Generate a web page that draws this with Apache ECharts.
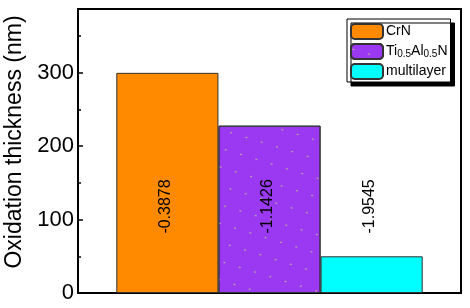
<!DOCTYPE html>
<html>
<head>
<meta charset="utf-8">
<script src="https://cdn.jsdelivr.net/npm/echarts@6/dist/echarts.min.js"></script>
<style>
  html, body { margin: 0; padding: 0; background: #fff; }
  #chart { width: 470px; height: 308px; }
</style>
</head>
<body>
<div id="chart"></div>
<script>
const seriesNames = ['CrN', 'Ti0.5Al0.5N', 'multilayer']
const legendLabels = ['CrN', 'Ti{sub|0.5}Al{sub|0.5}N', 'multilayer']
const thickness = [300, 228, 50]
const barNotes = ['-0.3878', '-1.1426', '-1.9545']
const yTicks = [0, 100, 200, 300]
const colors = ['#FF8A00', '#9A38F2', '#00FFFF']
const labelLevel = 118 // value level where the rotated notes sit

const chart = echarts.init(document.getElementById('chart'))

const series = seriesNames.map((name, i) => {
  const v = thickness[i]
  const rel = ((v - labelLevel) / v * 100).toFixed(1) + '%'
  const s = {
    name: name,
    type: 'bar',
    data: [v],
    barGap: '0%',
    barCategoryGap: '20%',
    itemStyle: { color: colors[i], borderColor: '#333', borderWidth: 1 },
    label: {
      show: true,
      formatter: barNotes[i],
      position: ['48%', rel],
      rotate: 90,
      align: 'center',
      verticalAlign: 'middle',
      color: '#000',
      fontSize: 16,
      fontFamily: 'Liberation Sans'
    }
  }
  if (i === 1) {
    s.itemStyle.decal = {
      symbol: 'circle',
      symbolSize: 0.2,
      color: 'rgba(205,230,110,0.9)',
      dashArrayX: 8,
      dashArrayY: 9,
      rotation: 0.3
    }
  }
  return s
})

const option = {
  animation: false,
  backgroundColor: '#fff',
  textStyle: { fontFamily: 'Liberation Sans' },
  grid: {
    left: 78, right: 9, top: 9, bottom: 15,
    outerBoundsMode: 'none',
    containLabel: false,
    show: true, borderColor: '#000', borderWidth: 2
  },
  legend: {
    orient: 'vertical',
    left: 347,
    top: 19,
    itemWidth: 32,
    itemHeight: 15,
    itemGap: 3,
    padding: [4, 3, 2, 3],
    backgroundColor: '#fff',
    borderColor: '#000',
    borderWidth: 1,
    borderRadius: 0,
    shadowColor: '#000',
    shadowBlur: 0,
    shadowOffsetX: 4,
    shadowOffsetY: 4,
    data: seriesNames,
    formatter: (name) => legendLabels[seriesNames.indexOf(name)],
    textStyle: {
      fontSize: 14,
      color: '#000',
      padding: [0, 0, 0, -2],
      rich: {
        sub: { fontSize: 10, verticalAlign: 'bottom', padding: [6, 0, 0, 0] }
      }
    }
  },
  xAxis: {
    type: 'category',
    data: [''],
    axisLine: { lineStyle: { color: '#000', width: 2 } },
    axisTick: { show: false },
    axisLabel: { show: false }
  },
  yAxis: {
    type: 'value',
    min: 0,
    max: 387,
    interval: 100,
    name: 'Oxidation thickness (nm)',
    nameLocation: 'middle',
    nameGap: 47,
    nameTextStyle: { fontSize: 23, color: '#000', padding: [0, 0, 0, 18] },
    axisLine: { show: true, lineStyle: { color: '#000', width: 2 } },
    axisTick: { show: true, inside: true, length: 5, lineStyle: { color: '#000', width: 1.5 } },
    minorTick: { show: true, splitNumber: 2, length: 3, lineStyle: { color: '#000', width: 1.5 } },
    splitLine: { show: false },
    axisLabel: {
      fontSize: 22,
      color: '#000',
      margin: 4,
      formatter: (v) => yTicks.indexOf(v) >= 0 ? String(v) : ''
    }
  },
  series: series
}

chart.setOption(option)
</script>
</body>
</html>
